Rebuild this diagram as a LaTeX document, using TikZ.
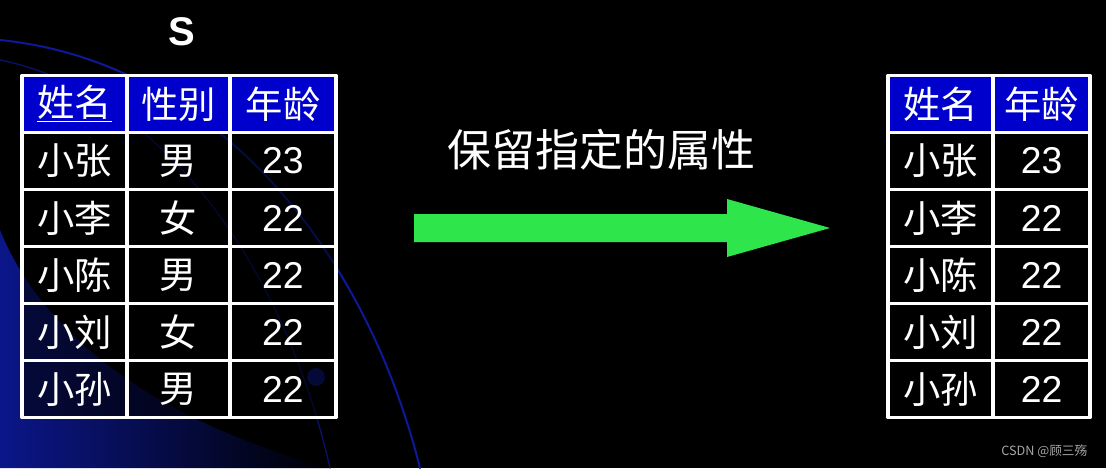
\documentclass[tikz,border=0pt]{standalone}
\usepackage{fontspec}
\setmainfont{Liberation Sans}
\newfontfamily\cjk{Noto Sans CJK SC}
\usetikzlibrary{positioning}
\definecolor{hdrblue}{rgb}{0,0,0.8}
\definecolor{arrowgreen}{rgb}{0.18,0.9,0.3}
\definecolor{swirl}{rgb}{0.05,0.1,0.6}

\tikzset{
  cell/.style={draw=white,line width=2.5pt,fill=black,text=white,minimum height=57*0.75pt,inner sep=0pt,font=\fontsize{28}{30}\selectfont},
  hcell/.style={cell,fill=hdrblue,fill opacity=1},
  lcell/.style={cell,fill opacity=0.55,text opacity=1},
}

\begin{document}
\begin{tikzpicture}[x=0.75pt,y=-0.75pt,line cap=round,line join=round]
  \useasboundingbox (0,0) rectangle (1106,468);
  \fill[black] (0,0) rectangle (1106,468);
  % background swirl
  \shade[left color=swirl,right color=black,opacity=0.9] (0,468) -- (0,230) .. controls (40,330) and (150,420) .. (330,468) -- cycle;
  \draw[swirl,line width=1.5pt] (0,40) .. controls (200,60) and (360,230) .. (420,468);
  \draw[swirl!70!black,line width=1pt] (0,60) .. controls (150,90) and (280,250) .. (330,468);
  \fill[swirl!80!black] (316,377) circle (9);
  \node[font=\bfseries\fontsize{30}{32}\selectfont,text=white] (title) at (182,32) {S};
  % left table
  \foreach \r/\n/\g/\a [count=\i] in {0/\underline{姓名}/性别/年龄, 1/小张/男/23, 2/小李/女/22, 3/小陈/男/22, 4/小刘/女/22, 5/小孙/男/22} {
    \ifnum\i=1 \def\sty{hcell}\else\def\sty{lcell}\fi
    \node[\sty,minimum width=105*0.75pt] (L\i a) at (74.5,104+\r*57) {\cjk\n};
    \node[\sty,minimum width=103*0.75pt] (L\i b) at (178.5,104+\r*57) {\cjk\g};
    \node[\sty,minimum width=106*0.75pt] (L\i c) at (283,104+\r*57) {\ifnum\i=1 \cjk\fi\a};
  }
  % right table
  \foreach \r/\n/\a [count=\i] in {0/姓名/年龄, 1/小张/23, 2/小李/22, 3/小陈/22, 4/小刘/22, 5/小孙/22} {
    \ifnum\i=1 \def\sty{hcell}\else\def\sty{cell}\fi
    \node[\sty,minimum width=105*0.75pt] (R\i a) at (940.5,104+\r*57) {\cjk\n};
    \node[\sty,minimum width=97*0.75pt] (R\i b) at (1041.5,104+\r*57) {\ifnum\i=1 \cjk\fi\a};
  }
  % arrow
  \fill[arrowgreen] (414,214) -- (727,214) -- (727,199) -- (830,228) -- (727,257) -- (727,242) -- (414,242) -- cycle;
  \node[text=white,font=\cjk\fontsize{33}{35}\selectfont] (label) at (601,150) {保留指定的属性};
  \node[text=gray!70,font=\cjk\fontsize{9.5}{11}\selectfont,anchor=east] (mark) at (1092,451) {CSDN @顾三殇};
\end{tikzpicture}
\end{document}
